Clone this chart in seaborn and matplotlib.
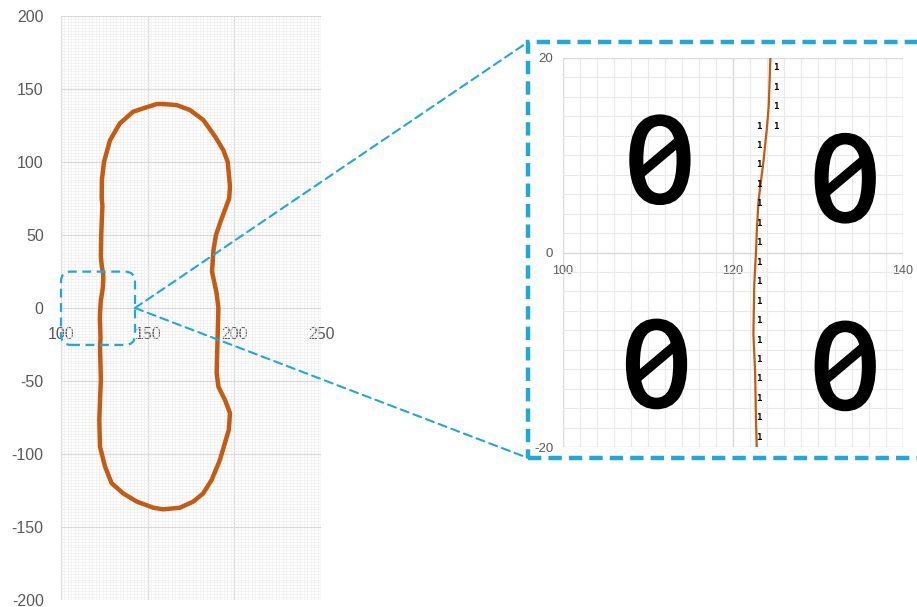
import numpy as np
import matplotlib
matplotlib.use('Agg')
import matplotlib.pyplot as plt
import matplotlib.patheffects as pe
import seaborn as sns
from matplotlib.patches import FancyBboxPatch, Rectangle, ConnectionPatch
from matplotlib.markers import MarkerStyle
from matplotlib.transforms import Affine2D
from matplotlib.ticker import MultipleLocator

# traced outline (x, y), going round from the top
loop_x = [159.0, 155.2, 149.4, 141.7, 134.0, 128.3, 124.8, 123.6, 123.5, 123.9, 123.2, 123.0,
          123.6, 124.3, 124.4, 124.2, 124.0, 123.6, 123.0, 122.8, 122.7, 122.5, 122.4, 122.6,
          122.7, 122.8, 122.5, 123.0, 122.6, 122.1, 122.5, 125.4, 129.2, 135.9, 143.7, 153.3,
          159.0, 168.6, 176.3, 182.0, 186.9, 191.7, 196.8, 197.5, 194.6, 190.8, 189.8, 190.2,
          190.8, 189.8, 187.1, 188.0, 189.4, 192.3, 197.0, 197.5, 196.2, 193.7, 189.0, 182.1,
          174.4, 166.7, 159.0]
loop_y = [139.7, 139.7, 137.5, 134.5, 126.5, 115.0, 100.0, 88.0, 75.0, 70.0, 50.0, 35.0,
          28.0, 24.0, 20.0, 15.0, 12.9, 9.5, 5.3, 2.2, 0.0, -3.3, -8.4, -12.2,
          -17.1, -20.3, -26.5, -49.3, -60.0, -76.7, -95.0, -108.6, -120.0, -127.0, -132.6, -136.8,
          -137.9, -136.8, -132.6, -127.0, -117.8, -104.0, -83.5, -72.0, -63.0, -53.9, -44.5, -26.5,
          0.0, 10.0, 25.0, 40.0, 50.0, 60.0, 75.0, 83.0, 100.0, 108.0, 117.3, 128.8,
          135.6, 139.0, 139.7]

main_xticks = [100, 150, 200, 250]
main_yticks = [-200, -150, -100, -50, 0, 50, 100, 150, 200]
inset_xticks = [100, 120, 140]
inset_yticks = [-20, 0, 20]

# zoom region marked on the main chart
zoom_box_x = [100, 142.7]
zoom_box_y = [-25.3, 24.9]

# cell labels in the inset
ones_x = [125, 125, 125, 125,
          123, 123, 123, 123, 123, 123, 123, 123, 123, 123, 123, 123, 123, 123, 123, 123, 123]
ones_y = [19, 17, 15, 13,
          13, 11, 9, 7, 5, 3, 1, -1, -3, -5, -7, -9, -11, -13, -15, -17, -19]
zero_x = [111.4, 133.2, 111.0, 133.2]
zero_y = [9.8, 7.9, -11.2, -11.4]

ORANGE = '#c55a11'
BLUE = '#1ea8dc'
GRID_MAJ = '#d9d9d9'
GRID_MIN = '#eeeeee'
TXT = '#595959'

sns.set_style('white')
plt.rcParams['font.family'] = ['Liberation Sans', 'DejaVu Sans']
plt.rcParams['axes.unicode_minus'] = False

fig = plt.figure(figsize=(9.17, 6.07), dpi=100)

# ---- main chart
ax = fig.add_axes([61 / 917, 7 / 607, 260 / 917, 584 / 607])
sns.lineplot(x=loop_x, y=loop_y, sort=False, estimator=None, color=ORANGE,
             linewidth=3.2, ax=ax)
ax.set_xlim(100, 250)
ax.set_ylim(-200, 200)
ax.set_xticks(main_xticks)
ax.set_yticks(main_yticks)
ax.xaxis.set_minor_locator(MultipleLocator(2))
ax.yaxis.set_minor_locator(MultipleLocator(2))
ax.grid(True, which='minor', color=GRID_MIN, linewidth=0.5)
ax.grid(True, which='major', color=GRID_MAJ, linewidth=0.9)
ax.set_axisbelow(True)
for s in ax.spines.values():
    s.set_visible(False)
ax.spines['bottom'].set_position(('data', 0))
ax.tick_params(which='both', length=0)
ax.tick_params(axis='x', pad=14, labelsize=11.5, labelcolor=TXT)
ax.tick_params(axis='y', pad=12.5, labelsize=11.5, labelcolor=TXT)

rx = zoom_box_x[1] - zoom_box_x[0]
ry = zoom_box_y[1] - zoom_box_y[0]
box = FancyBboxPatch((zoom_box_x[0], zoom_box_y[0]), rx, ry,
                     boxstyle='round,pad=0,rounding_size=5.8', mutation_aspect=6.8 / 5.8,
                     fill=False, edgecolor=BLUE, linewidth=1.6, linestyle=(0, (4, 2.5)),
                     clip_on=False, zorder=5)
ax.add_patch(box)

# ---- inset
ax2 = fig.add_axes([563 / 917, 160 / 607, 340 / 917, 389 / 607])
sns.lineplot(x=loop_x, y=loop_y, sort=False, estimator=None, color=ORANGE,
             linewidth=1.6, ax=ax2)
ax2.set_xlim(100, 140)
ax2.set_ylim(-20, 20)
ax2.set_xticks(inset_xticks)
ax2.set_yticks(inset_yticks)
ax2.xaxis.set_minor_locator(MultipleLocator(2))
ax2.yaxis.set_minor_locator(MultipleLocator(2))
ax2.grid(True, which='minor', color='#e9e9e9', linewidth=0.8)
ax2.grid(True, which='major', color=GRID_MAJ, linewidth=1.0)
ax2.set_axisbelow(True)
for s in ax2.spines.values():
    s.set_visible(False)
ax2.spines['bottom'].set_position(('data', 0))
ax2.tick_params(which='both', length=0)
ax2.tick_params(axis='x', pad=9, labelsize=9, labelcolor=TXT)
ax2.tick_params(axis='y', pad=7, labelsize=9.5, labelcolor=TXT)

# big slashed zeros: plain oval glyph plus a slash marker on top
for x, y in zip(zero_x, zero_y):
    ax2.text(x, y, '0', fontsize=84, ha='center', va='center_baseline',
             family=['DejaVu Sans'], color='black',
             path_effects=[pe.withStroke(linewidth=1.8, foreground='black')])
slash = MarkerStyle('_', transform=Affine2D().rotate_deg(41))
ax2.plot(zero_x, zero_y, linestyle='none', marker=slash, markersize=36,
         markeredgewidth=7, color='black', solid_capstyle='butt')

for x, y in zip(ones_x, ones_y):
    ax2.text(x, y, '1', fontsize=6.5, fontweight='bold', ha='center', va='center',
             family=['DejaVu Sans Mono'], color='black')

# dashed frame round the inset
frame = Rectangle((528 / 917, 149 / 607), 0.5, 416 / 607, transform=fig.transFigure,
                  fill=False, edgecolor=BLUE, linewidth=3.2, linestyle=(0, (3, 1.6)),
                  clip_on=False)
fig.patches.append(frame)

for fy in [565 / 607, 149 / 607]:
    con = ConnectionPatch(xyA=(zoom_box_x[1], 0), coordsA='data', axesA=ax,
                          xyB=(528 / 917, fy), coordsB='figure fraction',
                          color=BLUE, linewidth=1.5, linestyle=(0, (4, 2.5)))
    fig.add_artist(con)

fig.savefig('out.png', dpi=100)
